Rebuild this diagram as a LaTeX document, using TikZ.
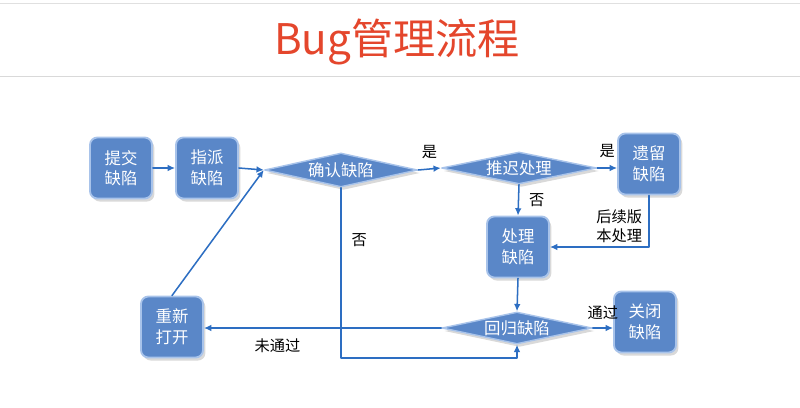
\documentclass[tikz,border=0pt]{standalone}
\usepackage{fontspec}
\setmainfont{Noto Sans CJK SC}
\usetikzlibrary{arrows.meta,shapes.geometric,shadows}
\definecolor{boxblue}{HTML}{5A87C8}
\definecolor{glowblue}{HTML}{A8C3EA}
\definecolor{lineblue}{HTML}{2D6EC2}
\definecolor{titlered}{HTML}{E4462C}
\tikzset{
  stepbox/.style={rectangle,rounded corners=0.22cm,fill=boxblue,draw=glowblue,line width=1.6pt,
    minimum width=1.86cm,minimum height=1.83cm,inner sep=0pt,align=center,text=white,
    font=\fontsize{14}{17.5}\selectfont,
    drop shadow={shadow xshift=0.07cm,shadow yshift=-0.09cm,opacity=0.3}},
  choice/.style={diamond,aspect=5.5,fill=boxblue,draw=glowblue,line width=1.2pt,inner sep=0pt,text=white,
    font=\fontsize{14}{17.5}\selectfont,
    drop shadow={shadow xshift=0.07cm,shadow yshift=-0.09cm,opacity=0.3}},
  flow/.style={draw=lineblue,line width=1.3pt,-{Latex[length=2.2mm,width=2mm]}},
  lbl/.style={font=\fontsize{13}{16}\selectfont,text=black,align=center}
}

\begin{document}
\begin{tikzpicture}[line cap=round,line join=round,x=0.03cm,y=-0.03cm]
  \useasboundingbox (0,0) rectangle (800,407);
  % title and rules
  \draw[line width=0.8pt,black!12] (0,3) -- (800,3);
  \draw[line width=0.8pt,black!15] (0,76) -- (800,76);
  \node[text=titlered,font=\fontsize{36}{40}\selectfont] (title) at (397,42) {Bug管理流程};
  % boxes
  \foreach \name/\x/\y/\txt in {submit/121/168/提交\\缺陷, assign/207/168/指派\\缺陷,
      leave/649/164/遗留\\缺陷, handle/518/247/处理\\缺陷,
      close/645/322/关闭\\缺陷, reopen/172/327/重新\\打开} {
    \node[stepbox] (\name) at (\x,\y) {\txt};
  }
  % decisions
  \node[choice,minimum width=4.59cm,minimum height=1.02cm] (confirm) at (341,170) {确认缺陷};
  \node[choice,minimum width=4.65cm,minimum height=0.96cm] (delay) at (519,168) {推迟处理};
  \node[choice,minimum width=4.5cm,minimum height=0.96cm] (regress) at (517,328) {回归缺陷};
  \coordinate (bend) at (341,358);
  % connectors
  \draw[flow] (submit) -- (assign);
  \draw[flow] (assign.east) -- (confirm.west);
  \draw[flow] (confirm.east) -- node[lbl,above=5pt] {是} (delay.west);
  \draw[flow] (delay.east) -- node[lbl,above=5pt] {是} (delay.east -| leave.west);
  \draw[flow] (delay.south) -- node[lbl,right=5pt] {否} (handle.north);
  \draw[flow] (leave.south) |- node[lbl,pos=0.3,left=2pt] {后续版\\本处理} (handle.east);
  \draw[flow] (handle.south) -- (regress.north);
  \draw[flow] (regress.east) -- node[lbl,above=3pt] {通过} (regress.east -| close.west);
  \draw[flow] (regress.west) -- node[lbl,pos=0.69,below=5pt] {未通过} (regress.west -| reopen.east);
  \draw[flow] (reopen.north) -- (confirm.west);
  \draw[flow] (confirm.south) -- node[lbl,pos=0.31,right=5pt] {否} (bend) -| (regress.south);
\end{tikzpicture}
\end{document}
